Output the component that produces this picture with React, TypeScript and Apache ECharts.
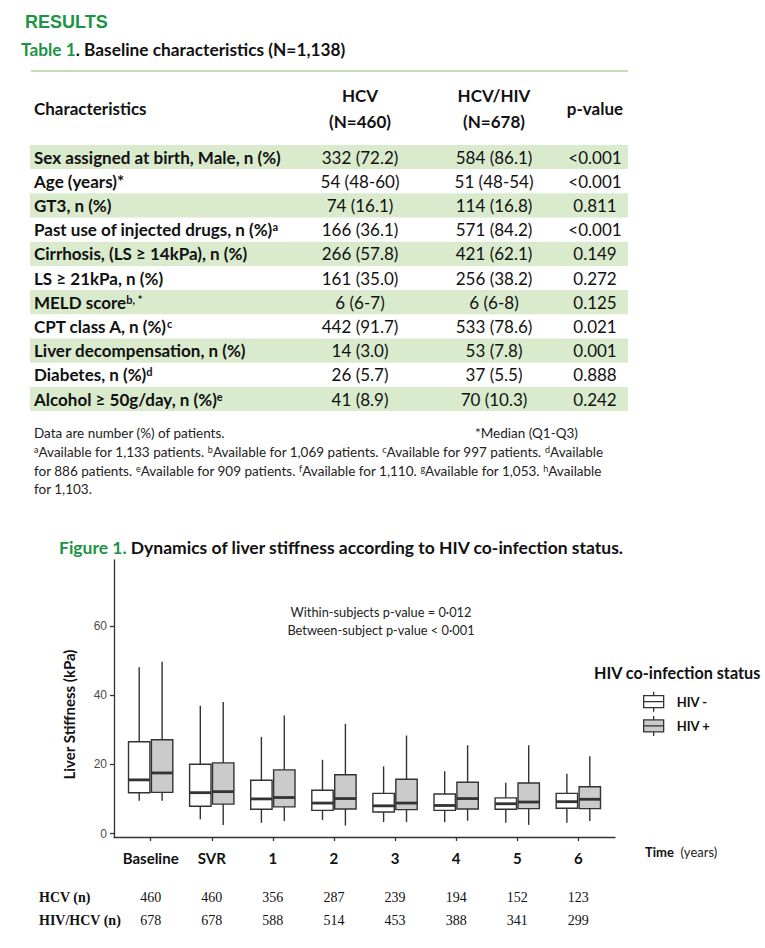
import React, { useEffect, useRef } from 'react';
import * as echarts from 'echarts';

// ---------- DATA ----------
const categories = ['Baseline', 'SVR', '1', '2', '3', '4', '5', '6'];
// [lower whisker, Q1, median, Q3, upper whisker]
const hivNegStats = [
  [9.5, 11.8, 15.5, 26.5, 48.0],
  [4.1, 7.9, 11.8, 20.0, 36.9],
  [3.1, 7.0, 10.0, 15.4, 27.9],
  [3.9, 6.7, 8.8, 12.5, 21.3],
  [3.3, 6.2, 8.0, 11.6, 19.4],
  [3.3, 6.7, 8.1, 11.4, 18.0],
  [3.1, 7.0, 8.6, 10.3, 14.7],
  [3.1, 7.3, 9.2, 11.6, 17.3],
];
const hivPosStats = [
  [9.5, 11.9, 17.5, 27.1, 49.6],
  [2.5, 8.5, 12.1, 20.4, 38.0],
  [3.6, 7.7, 10.4, 18.4, 34.1],
  [2.3, 7.1, 10.1, 17.0, 31.7],
  [3.3, 6.9, 8.8, 15.7, 28.3],
  [3.7, 7.1, 10.1, 14.8, 25.5],
  [2.5, 7.2, 9.1, 14.6, 25.5],
  [3.6, 7.2, 9.9, 13.5, 22.3],
];
const hcvN = [460, 460, 356, 287, 239, 194, 152, 123];
const hivHcvN = [678, 678, 588, 514, 453, 388, 341, 299];
const yTicks = [0, 20, 40, 60];
const seriesNames = ['HIV -', 'HIV +'];
const nRowLabels = ['HCV (n)', 'HIV/HCV (n)'];
const annotationLines = ['Within-subjects p-value = 0·012', 'Between-subject p-value < 0·001'];

const tableHeader = ['Characteristics', 'HCV\n(N=460)', 'HCV/HIV\n(N=678)', 'p-value'];
const characteristics = [
  'Sex assigned at birth, Male, n (%)',
  'Age (years)*',
  'GT3, n (%)',
  'Past use of injected drugs, n (%){s|a}',
  'Cirrhosis, (LS ≥ 14kPa), n (%)',
  'LS ≥ 21kPa, n (%)',
  'MELD score{s|b, *}',
  'CPT class A, n (%){s|c}',
  'Liver decompensation, n (%)',
  'Diabetes, n (%){s|d}',
  'Alcohol ≥ 50g/day, n (%){s|e}',
];
const hcvValues = ['332 (72.2)', '54 (48-60)', '74 (16.1)', '166 (36.1)', '266 (57.8)', '161 (35.0)', '6 (6-7)', '442 (91.7)', '14 (3.0)', '26 (5.7)', '41 (8.9)'];
const hivValues = ['584 (86.1)', '51 (48-54)', '114 (16.8)', '571 (84.2)', '421 (62.1)', '256 (38.2)', '6 (6-8)', '533 (78.6)', '53 (7.8)', '37 (5.5)', '70 (10.3)'];
const pValues = ['<0.001', '<0.001', '0.811', '<0.001', '0.149', '0.272', '0.125', '0.021', '0.001', '0.888', '0.242'];

const footnoteLeft = 'Data are number (%) of patients.';
const footnoteRight = '*Median (Q1-Q3)';
const footnoteLines = [
  '{s|a}Available for 1,133 patients. {s|b}Available for 1,069 patients. {s|c}Available for 997 patients. {s|d}Available',
  'for 886 patients. {s|e}Available for 909 patients. {s|f}Available for 1,110. {s|g}Available for 1,053. {s|h}Available',
  'for 1,103.',
];

// ---------- STYLE ----------
const GREEN = '#1b9445';
const BAND = '#d9eacd';
const SANS = 'Lato, "Open Sans", sans-serif';
const SERIF = '"Liberation Serif", "DejaVu Serif", serif';
const STROKE = '#333333';
const TABLE_FS = 17;

const ROW_Y0 = 157;
const ROW_H = 24.2;
const COL_X = [34, 360, 494, 595];

function boxSeries(name: string, stats: number[][], offsetFrac: number, fill: string) {
  return {
    type: 'custom',
    name,
    xAxisIndex: 0,
    yAxisIndex: 0,
    itemStyle: { color: fill },
    encode: { x: 0, y: [1, 2, 3, 4, 5] },
    data: stats.map((s, i) => [i, ...s]),
    renderItem: (params: any, api: any) => {
      const idx = api.value(0);
      const unit = api.size([1, 0])[0];
      const w = unit * 0.35;
      const lo = api.coord([idx, api.value(1)]);
      const q1 = api.coord([idx, api.value(2)]);
      const md = api.coord([idx, api.value(3)]);
      const q3 = api.coord([idx, api.value(4)]);
      const hi = api.coord([idx, api.value(5)]);
      const cx = lo[0] + unit * offsetFrac;
      const ls = { stroke: STROKE, lineWidth: 1.4 };
      return {
        type: 'group',
        children: [
          { type: 'line', shape: { x1: cx, y1: hi[1], x2: cx, y2: q3[1] }, style: ls },
          { type: 'line', shape: { x1: cx, y1: q1[1], x2: cx, y2: lo[1] }, style: ls },
          {
            type: 'rect',
            shape: { x: cx - w / 2, y: q3[1], width: w, height: q1[1] - q3[1] },
            style: { fill, stroke: STROKE, lineWidth: 1.4 },
          },
          {
            type: 'line',
            shape: { x1: cx - w / 2, y1: md[1], x2: cx + w / 2, y2: md[1] },
            style: { stroke: STROKE, lineWidth: 2.8 },
          },
        ],
      };
    },
  };
}

function buildGraphics() {
  const g: any[] = [];
  g.push({
    type: 'text', x: 25, y: 22,
    style: { text: 'RESULTS', fill: GREEN, fontFamily: '"Liberation Sans", Arial, sans-serif', fontWeight: 'bold', fontSize: 18, verticalAlign: 'middle' },
  });
  g.push({
    type: 'text', x: 21, y: 49,
    style: {
      text: '{g|Table 1}. Baseline characteristics (N=1,138)', fill: '#111', fontFamily: SANS, fontWeight: 'bold', fontSize: 17.3, verticalAlign: 'middle',
      rich: { g: { fill: GREEN, fontFamily: SANS, fontWeight: 'bold', fontSize: 17.3 } },
    },
  });
  g.push({ type: 'line', shape: { x1: 31, y1: 71, x2: 628, y2: 71 }, style: { stroke: '#c3dfb5', lineWidth: 2 } });
  // header
  tableHeader.forEach((h, c) => {
    g.push({
      type: 'text', x: COL_X[c], y: 108,
      style: { text: h, fill: '#111', fontFamily: SANS, fontWeight: 'bold', fontSize: TABLE_FS, lineHeight: 26, align: c === 0 ? 'left' : 'center', verticalAlign: 'middle' },
    });
  });
  // rows
  characteristics.forEach((label, i) => {
    const cy = ROW_Y0 + i * ROW_H;
    if (i % 2 === 0) {
      g.push({ type: 'rect', shape: { x: 30, y: cy - ROW_H / 2, width: 598, height: ROW_H }, style: { fill: BAND } });
    }
    g.push({
      type: 'text', x: COL_X[0], y: cy,
      style: {
        text: label, fill: '#111', fontFamily: SANS, fontWeight: 'bold', fontSize: TABLE_FS, verticalAlign: 'middle',
        rich: { s: { fontFamily: SANS, fontWeight: 'bold', fontSize: 11, verticalAlign: 'top', fill: '#111' } },
      },
    });
    [hcvValues[i], hivValues[i], pValues[i]].forEach((v, k) => {
      g.push({
        type: 'text', x: COL_X[k + 1], y: cy,
        style: { text: v, fill: '#111', fontFamily: SANS, fontSize: TABLE_FS, align: 'center', verticalAlign: 'middle' },
      });
    });
  });
  // footnotes
  const fnStyle = { fill: '#222', fontFamily: SANS, fontSize: 13.5, verticalAlign: 'middle' };
  g.push({ type: 'text', x: 34, y: 433, style: { ...fnStyle, text: footnoteLeft } });
  g.push({ type: 'text', x: 475, y: 433, style: { ...fnStyle, text: footnoteRight } });
  footnoteLines.forEach((t, i) => {
    g.push({
      type: 'text', x: 34, y: 452 + i * 18.5,
      style: { ...fnStyle, text: t, rich: { s: { fontFamily: SANS, fontSize: 9, verticalAlign: 'top', fill: '#222' } } },
    });
  });
  // figure title
  g.push({
    type: 'text', x: 59, y: 547,
    style: {
      text: '{g|Figure 1.} Dynamics of liver stiffness according to HIV co-infection status.', fill: '#111', fontFamily: SANS, fontWeight: 'bold', fontSize: 17.5, verticalAlign: 'middle',
      rich: { g: { fill: GREEN, fontFamily: SANS, fontWeight: 'bold', fontSize: 17.5 } },
    },
  });
  // annotation
  annotationLines.forEach((t, i) => {
    g.push({
      type: 'text', x: 381, y: 612 + i * 17.5,
      style: { text: t, fill: '#222', fontFamily: SANS, fontSize: 12.8, align: 'center', verticalAlign: 'middle' },
    });
  });
  // legend title
  g.push({
    type: 'text', x: 594, y: 672,
    style: { text: 'HIV co-infection status', fill: '#111', fontFamily: SANS, fontWeight: 'bold', fontSize: 16.2, verticalAlign: 'middle' },
  });
  // n row labels
  nRowLabels.forEach((t, i) => {
    g.push({
      type: 'text', x: 39, y: 897 + i * 23,
      style: { text: t, fill: '#111', fontFamily: SERIF, fontWeight: 'bold', fontSize: 14, verticalAlign: 'middle' },
    });
  });
  return g;
}

const catIdx = categories.map((_, i) => i);
const LEGEND_ICON = 'path://M10,0L10,4M0,4L20,4L20,16L0,16ZM0,10L20,10M10,16L10,20';

export default function App() {
  const ref = useRef<HTMLDivElement>(null);
  useEffect(() => {
    document.body.style.margin = '0';
    const chart = echarts.init(ref.current!, undefined, { renderer: 'svg' });
    const nAxis = (vals: number[], offset: number) => ({
      type: 'value',
      gridIndex: 0,
      position: 'bottom',
      min: -0.6,
      max: 7.6,
      offset,
      axisLine: { show: false },
      axisTick: { show: false },
      splitLine: { show: false },
      axisLabel: {
        customValues: catIdx,
        formatter: (v: number) => String(vals[Math.round(v)]),
        fontFamily: SERIF,
        fontSize: 14,
        color: '#111',
        margin: 8,
      },
    });
    chart.setOption({
      animation: false,
      backgroundColor: '#ffffff',
      grid: { left: 114, top: 560, width: 501, height: 277 },
      legend: {
        left: 643,
        top: 691,
        padding: 0,
        orient: 'vertical',
        itemWidth: 20,
        itemHeight: 20,
        itemGap: 3,
        selectedMode: false,
        textStyle: { fontFamily: SANS, fontWeight: 'bold', fontSize: 13, color: '#111', padding: [0, 0, 0, 8] },
        data: [
          { name: seriesNames[0], icon: LEGEND_ICON, itemStyle: { color: '#ffffff', borderColor: STROKE, borderWidth: 1.3 } },
          { name: seriesNames[1], icon: LEGEND_ICON, itemStyle: { color: '#cbcbcb', borderColor: STROKE, borderWidth: 1.3 } },
        ],
      },
      xAxis: [
        {
          type: 'value',
          position: 'bottom',
          min: -0.6,
          max: 7.6,
          axisLine: { show: true, onZero: false, lineStyle: { color: STROKE, width: 1.3 } },
          axisTick: { show: true, customValues: catIdx, length: 4, lineStyle: { color: STROKE, width: 1.3 } },
          splitLine: { show: false },
          axisLabel: {
            customValues: catIdx,
            formatter: (v: number) => categories[Math.round(v)],
            fontFamily: SANS,
            fontWeight: 'bold',
            fontSize: 15,
            color: '#111',
            margin: 13,
          },
          name: '{b|Time}  {n|(years)}',
          nameLocation: 'end',
          nameGap: 30,
          nameTextStyle: {
            padding: [30, 0, 0, 0],
            rich: {
              b: { fontFamily: SANS, fontWeight: 'bold', fontSize: 13, color: '#111' },
              n: { fontFamily: SANS, fontSize: 13, color: '#222' },
            },
          },
        },
        nAxis(hcvN, 45),
        nAxis(hivHcvN, 68),
      ],
      yAxis: {
        type: 'value',
        min: -1,
        max: 79,
        axisLine: { show: true, onZero: false, lineStyle: { color: STROKE, width: 1.3 } },
        axisTick: { show: true, customValues: yTicks, length: 4, lineStyle: { color: STROKE, width: 1.3 } },
        splitLine: { show: false },
        axisLabel: {
          customValues: yTicks,
          fontFamily: '"Liberation Sans", Arial, sans-serif',
          fontSize: 12,
          color: '#4d4d4d',
          margin: 7,
        },
        name: 'Liver Stiffness (kPa)',
        nameLocation: 'middle',
        nameGap: 38,
        nameRotate: 90,
        nameTextStyle: { fontFamily: SANS, fontWeight: 'bold', fontSize: 15, color: '#111', padding: [0, 32, 0, 0] },
      },
      series: [
        boxSeries(seriesNames[0], hivNegStats, -0.1875, '#ffffff'),
        boxSeries(seriesNames[1], hivPosStats, 0.1875, '#cbcbcb'),
      ],
      graphic: buildGraphics(),
    });
    return () => chart.dispose();
  }, []);
  return <div ref={ref} style={{ width: 765, height: 948 }} />;
}
